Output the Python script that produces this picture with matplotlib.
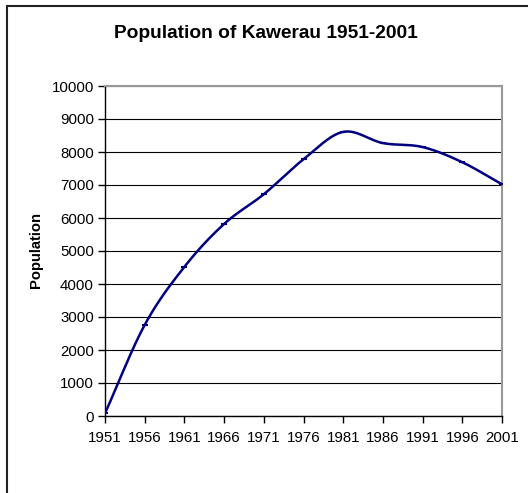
import matplotlib.pyplot as plt
import matplotlib.patches as patches
import numpy as np

plt.rcParams['font.family'] = ['Liberation Sans', 'DejaVu Sans']

years = [1951, 1956, 1961, 1966, 1971, 1976, 1981, 1986, 1991, 1996, 2001]
population = [80, 2760, 4520, 5820, 6720, 7780, 8610, 8270, 8150, 7690, 7020]
yticks = list(range(0, 10001, 1000))


def smooth(xs, ys, n=30):
    # catmull-rom, like excel's smoothed line
    xs = np.asarray(xs, float)
    ys = np.asarray(ys, float)
    px = np.concatenate([[2 * xs[0] - xs[1]], xs, [2 * xs[-1] - xs[-2]]])
    py = np.concatenate([[2 * ys[0] - ys[1]], ys, [2 * ys[-1] - ys[-2]]])
    ox, oy = [], []
    t = np.linspace(0, 1, n)
    for i in range(1, len(px) - 2):
        for p, o in ((px, ox), (py, oy)):
            p0, p1, p2, p3 = p[i - 1], p[i], p[i + 1], p[i + 2]
            o.extend(0.5 * (2 * p1 + (-p0 + p2) * t
                            + (2 * p0 - 5 * p1 + 4 * p2 - p3) * t ** 2
                            + (-p0 + 3 * p1 - 3 * p2 + p3) * t ** 3))
    return ox, oy


fig = plt.figure(figsize=(5.28, 4.93), dpi=100)
fig.patches.append(patches.Rectangle((7 / 528, -0.1), 1.2, 1.1 - 6 / 493,
                                     transform=fig.transFigure, fill=False,
                                     edgecolor='#222222', linewidth=1.5))

ax = fig.add_axes([105 / 528, 1 - 416 / 493, 397 / 528, 330 / 493])
sx, sy = smooth(years, population)
ax.plot(sx, sy, color='#000080', linewidth=1.8, zorder=3)
ax.plot(years, population, linestyle='none', marker='_', markersize=4,
        markeredgewidth=1.5, color='#000080', zorder=4)

ax.set_xlim(1951, 2001)
ax.set_ylim(0, 10000)
ax.set_xticks(years)
ax.set_yticks(yticks)
ax.tick_params(labelsize=10.8, length=5, width=1, color='black', pad=3)
ax.tick_params(axis='x', pad=6)
ax.grid(axis='y', color='black', linewidth=0.8)
ax.set_axisbelow(True)
for s in ['top', 'right']:
    ax.spines[s].set_color('#999999')
    ax.spines[s].set_linewidth(1.5)
for s in ['left', 'bottom']:
    ax.spines[s].set_color('black')
    ax.spines[s].set_linewidth(1)

fig.text(266 / 528, 1 - 34 / 493, 'Population of Kawerau 1951-2001',
         ha='center', va='center', fontsize=13.8, fontweight='bold')
fig.text(36 / 528, 1 - 250 / 493, 'Population', rotation=90,
         ha='center', va='center', fontsize=10.6, fontweight='bold')

fig.savefig('out.png', dpi=100)
